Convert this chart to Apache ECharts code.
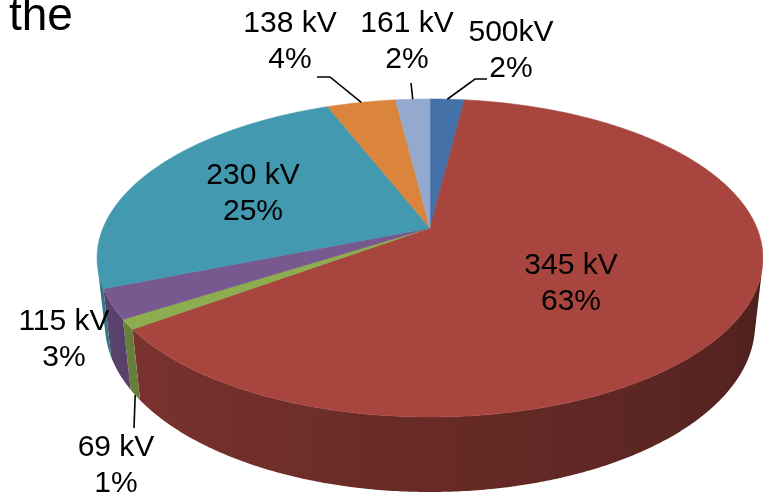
<!DOCTYPE html>
<html>
<head>
<meta charset="utf-8">
<script src="https://cdn.jsdelivr.net/npm/echarts@6/dist/echarts.min.js"></script>
<style>
  html, body { margin: 0; padding: 0; background: #fff; }
  #chart { width: 763px; height: 497px; }
</style>
</head>
<body>
<div id="chart"></div>
<script>
// Voltage classes, clockwise from the back of the pie
const categories = ['500kV', '345 kV', '69 kV', '115 kV', '230 kV', '138 kV', '161 kV'];
// Share of each class, in percent
const shares = [2, 63, 1, 3, 25, 4, 2];
// Slice colours, in the same order
const palette = ['#4571A9', '#A8453F', '#8DAD4F', '#77588F', '#4399AF', '#DA843C', '#93A9CF'];

// Label placement: block centre, and optional leader bend points
const labelLayout = [
  { at: [511, 51], leader: [[475, 79], [487, 79]] },
  { at: [571, 284] },
  { at: [116, 466], leader: [[134, 428]], fromWall: true },
  { at: [64, 340] },
  { at: [253, 194] },
  { at: [290, 42], leader: [[330, 77], [317, 77]] },
  { at: [407, 42], leader: [[411, 83]] }
];

// Perspective camera for the tilted pie (radius 1, thickness h)
const view = { cx: 430, cy: 228, F: 1530, D: 4.68, sinA: 0.469, h: 0.232 };
view.cosA = Math.sqrt(1 - view.sinA * view.sinA);

function project(thetaDeg, r, z) {
  const t = thetaDeg * Math.PI / 180;
  const X = r * Math.sin(t), Y = r * Math.cos(t);
  const dy = Y + view.D * view.cosA;
  const dz = z - view.D * view.sinA;
  const depth = dy * view.cosA - dz * view.sinA;
  const up = dy * view.sinA + dz * view.cosA;
  return [view.cx + view.F * X / depth, view.cy - view.F * up / depth];
}

// Angular extent of each slice (degrees clockwise from the back)
const total = shares.reduce((a, b) => a + b, 0);
const spans = [];
let acc = 0;
shares.forEach(v => {
  const a0 = acc / total * 360;
  acc += v;
  spans.push([a0, acc / total * 360]);
});

// Outer wall faces the viewer for this range of angles
const facing = Math.acos(-1 / (view.D * view.cosA)) * 180 / Math.PI;
const wallFrom = facing, wallTo = 360 - facing;

function shade(hex, f) {
  const n = parseInt(hex.slice(1), 16);
  const r = Math.round(((n >> 16) & 255) * f);
  const g = Math.round(((n >> 8) & 255) * f);
  const b = Math.round((n & 255) * f);
  return 'rgb(' + r + ',' + g + ',' + b + ')';
}
function wallFactor(theta) {
  const f = 0.45 + (theta - 100) / 130 * 0.27;
  return Math.max(0.42, Math.min(0.8, f));
}

const sliceData = categories.map((c, i) => [i, shares[i]]);

function renderWall(params, api) {
  const i = api.value(0);
  const lo = Math.max(spans[i][0], wallFrom);
  const hi = Math.min(spans[i][1], wallTo);
  if (hi <= lo) return { type: 'group', children: [] };
  const n = Math.max(2, Math.ceil((hi - lo) / 0.5));
  const topArc = [], bottomArc = [];
  for (let k = 0; k <= n; k++) {
    const a = lo + (hi - lo) * k / n;
    topArc.push(project(a, 1, 0));
    bottomArc.push(project(a, 1, -view.h));
  }
  const pts = topArc.concat(bottomArc.reverse());
  // horizontal shading: left end is at angle hi, right end at angle lo
  const xl = project(hi, 1, 0)[0], xr = project(lo, 1, 0)[0];
  const stops = [];
  const m = 12;
  for (let k = 0; k <= m; k++) {
    const a = hi - (hi - lo) * k / m;
    const x = project(a, 1, 0)[0];
    const off = xr > xl ? (x - xl) / (xr - xl) : 0;
    stops.push({ offset: Math.max(0, Math.min(1, off)), color: shade(palette[i], wallFactor(a)) });
  }
  const fill = new echarts.graphic.LinearGradient(xl, 0, Math.max(xr, xl + 1), 0, stops, true);
  return {
    type: 'polygon',
    shape: { points: pts },
    style: { fill: fill, stroke: null }
  };
}

function renderTop(params, api) {
  const i = api.value(0);
  const pts = [project(0, 0, 0)];
  const a0 = spans[i][0], a1 = spans[i][1];
  const n = Math.max(2, Math.ceil((a1 - a0) / 0.5));
  for (let k = 0; k <= n; k++) pts.push(project(a0 + (a1 - a0) * k / n, 1, 0));
  return {
    type: 'polygon',
    shape: { points: pts },
    style: { fill: palette[i], stroke: palette[i], lineWidth: 0.6 }
  };
}

function renderLabel(params, api) {
  const i = api.value(0);
  const lay = labelLayout[i];
  const mid = (spans[i][0] + spans[i][1]) / 2;
  const children = [{
    type: 'text',
    style: {
      text: categories[i] + '\n' + shares[i] + '%',
      x: lay.at[0], y: lay.at[1],
      align: 'center', verticalAlign: 'middle',
      font: '30px "Liberation Sans", Arial, sans-serif',
      lineHeight: 36, fill: '#000'
    }
  }];
  if (lay.leader) {
    const start = lay.fromWall ? project(mid, 1, -view.h) : project(mid, 1, 0);
    children.push({
      type: 'polyline',
      shape: { points: [start].concat(lay.leader) },
      style: { stroke: '#000', lineWidth: 1.6, fill: null }
    });
  }
  return { type: 'group', children: children };
}

const chart = echarts.init(document.getElementById('chart'), null, { renderer: 'canvas' });
chart.setOption({
  animation: false,
  backgroundColor: '#fff',
  graphic: [{
    type: 'text',
    left: 9, top: -6,
    style: { text: 'the', font: '46px "Liberation Sans", Arial, sans-serif', fill: '#000' }
  }],
  series: [
    { type: 'custom', coordinateSystem: 'none', data: sliceData, renderItem: renderWall, z: 1, silent: true },
    { type: 'custom', coordinateSystem: 'none', data: sliceData, renderItem: renderTop, z: 2, silent: true },
    { type: 'custom', coordinateSystem: 'none', data: sliceData, renderItem: renderLabel, z: 3, silent: true }
  ]
});
</script>
</body>
</html>
